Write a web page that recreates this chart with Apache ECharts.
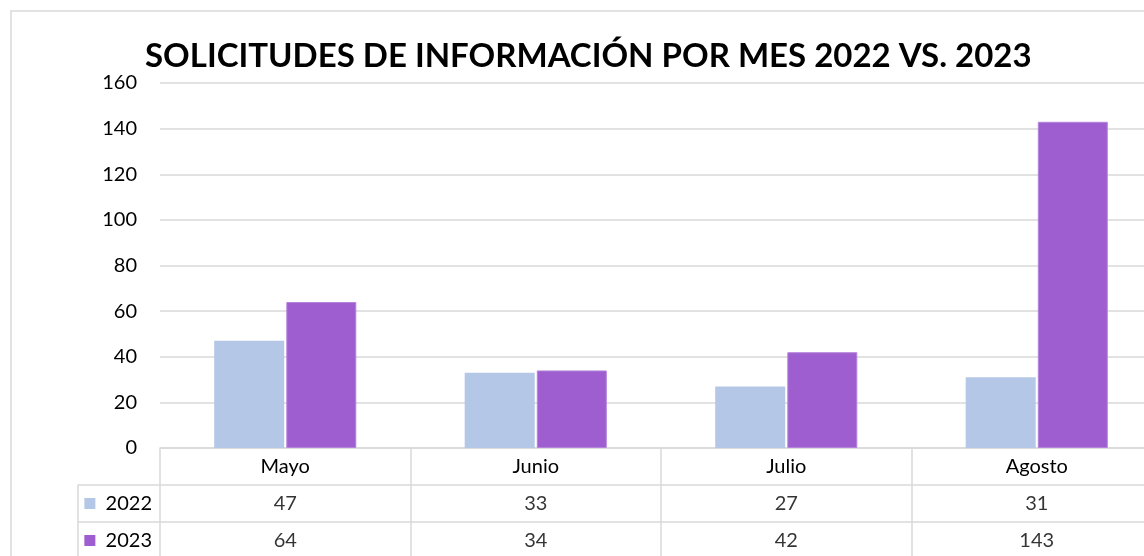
<!DOCTYPE html>
<html>
<head>
<meta charset="utf-8">
<script src="https://cdn.jsdelivr.net/npm/echarts@6/dist/echarts.min.js"></script>
<style>
  html, body { margin: 0; padding: 0; background: #fff; }
  #main { width: 1144px; height: 556px; }
</style>
</head>
<body>
<div id="main"></div>
<script>
// datos
var meses = ['Mayo', 'Junio', 'Julio', 'Agosto'];
var anios = ['2022', '2023'];
var datos2022 = [47, 33, 27, 31];
var datos2023 = [64, 34, 42, 143];
var colores = ['#b4c7e7', '#9e5ecf'];

var fuente = 'Lato';
var gris = '#d9d9d9';

var mychart = echarts.init(document.getElementById('main'));

// celdas de la tabla: [mes, año, valor]
function celdas(valores, anio) {
    return valores.map(function (v, i) { return [meses[i], anio, v]; });
}

var option = {
    animation: false,
    title: {
        text: 'SOLICITUDES DE INFORMACIÓN POR MES 2022 VS. 2023',
        left: 140,
        top: 35,
        textStyle: {
            fontFamily: fuente,
            fontWeight: 'bold',
            fontSize: 33,
            color: '#000'
        }
    },
    graphic: [{
        type: 'rect',
        shape: { x: 11, y: 11, width: 1200, height: 600 },
        style: { fill: 'none', stroke: gris, lineWidth: 1.5 },
        silent: true
    }],
    grid: [
        { left: 160, width: 1002, top: 83, height: 365, outerBoundsMode: 'none' },
        { left: 160, width: 1002, top: 485, height: 74, outerBoundsMode: 'none' }
    ],
    xAxis: [
        {
            gridIndex: 0,
            type: 'category',
            data: meses,
            axisLine: { lineStyle: { color: gris, width: 1.5 } },
            axisTick: { show: true, length: 37, lineStyle: { color: gris, width: 1.5 } },
            axisLabel: { margin: 9, fontFamily: fuente, fontSize: 20, color: '#000' }
        },
        {
            gridIndex: 1,
            type: 'category',
            data: meses,
            axisLine: { show: false },
            axisTick: { show: false },
            axisLabel: { show: false },
            splitLine: { show: true, lineStyle: { color: gris, width: 1.5 } }
        }
    ],
    yAxis: [
        {
            gridIndex: 0,
            type: 'value',
            min: 0,
            max: 160,
            interval: 20,
            axisLine: { show: false },
            axisTick: { show: false },
            splitLine: { lineStyle: { color: gris, width: 1.5 } },
            axisLabel: { margin: 23, fontFamily: fuente, fontSize: 20, color: '#000' }
        },
        {
            gridIndex: 1,
            type: 'category',
            data: anios,
            inverse: true,
            axisLine: { show: false },
            axisTick: { show: true, length: 82, lineStyle: { color: gris, width: 1.5 } },
            splitLine: { show: true, lineStyle: { color: gris, width: 1.5 } },
            axisLabel: {
                margin: 8,
                fontFamily: fuente,
                fontSize: 20,
                color: '#000',
                formatter: function (v, i) {
                    return '{c' + i + '|}  ' + v;
                },
                rich: {
                    c0: { backgroundColor: colores[0], width: 11, height: 11 },
                    c1: { backgroundColor: colores[1], width: 11, height: 11 }
                }
            }
        },
        {
            gridIndex: 1,
            type: 'category',
            data: anios,
            inverse: true,
            position: 'left',
            offset: 82,
            axisLine: { show: true, lineStyle: { color: gris, width: 1.5 } },
            axisTick: { show: false },
            axisLabel: { show: false }
        }
    ],
    series: [
        {
            name: '2022',
            type: 'bar',
            data: datos2022,
            barWidth: 70,
            barGap: '3%',
            itemStyle: { color: colores[0] }
        },
        {
            name: '2023',
            type: 'bar',
            data: datos2023,
            barWidth: 70,
            itemStyle: { color: colores[1], borderColor: '#b584dd', borderWidth: 1 }
        },
        {
            name: 'tabla2022',
            type: 'scatter',
            xAxisIndex: 1,
            yAxisIndex: 1,
            data: celdas(datos2022, '2022'),
            symbolSize: 1,
            itemStyle: { color: 'rgba(0,0,0,0)' },
            label: {
                show: true,
                position: 'inside',
                fontFamily: fuente,
                fontSize: 20,
                color: '#000',
                formatter: function (p) { return p.value[2]; }
            }
        },
        {
            name: 'tabla2023',
            type: 'scatter',
            xAxisIndex: 1,
            yAxisIndex: 1,
            data: celdas(datos2023, '2023'),
            symbolSize: 1,
            itemStyle: { color: 'rgba(0,0,0,0)' },
            label: {
                show: true,
                position: 'inside',
                fontFamily: fuente,
                fontSize: 20,
                color: '#000',
                formatter: function (p) { return p.value[2]; }
            }
        }
    ]
};
mychart.setOption(option);
</script>
</body>
</html>
